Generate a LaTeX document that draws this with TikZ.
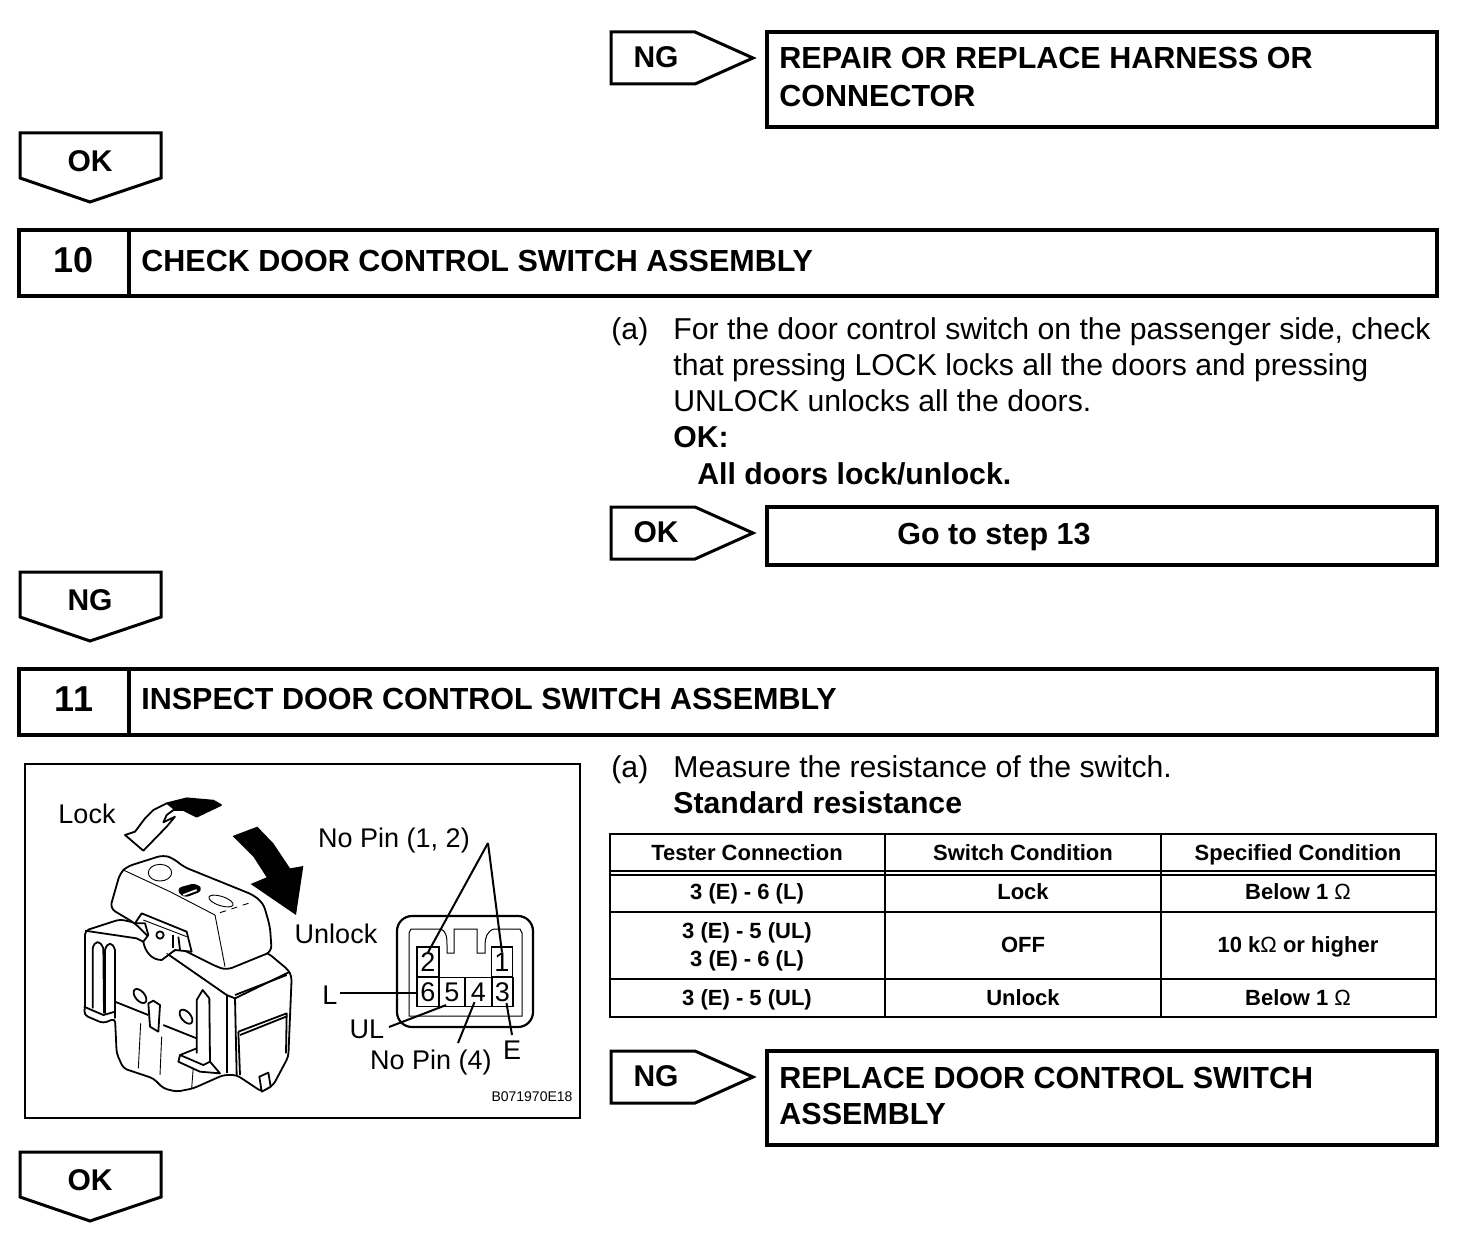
\documentclass[tikz,border=0pt]{standalone}
\usepackage{fontspec}
\setmainfont{Liberation Sans}
\usetikzlibrary{positioning}
\tikzset{
  boxline/.style={line width=1.7pt,line join=miter},
  tagline/.style={line width=1.5pt,line join=miter,fill=white},
  tagtext/.style={font=\fontsize{15}{18}\selectfont\bfseries,inner sep=0pt},
  titletext/.style={font=\fontsize{15.25}{18.4}\selectfont\bfseries,inner sep=0pt,anchor=base west,align=left},
  bodytext/.style={font=\fontsize{15.1}{18.1}\selectfont,inner sep=0pt,anchor=north west,align=left},
  steptext/.style={font=\fontsize{18}{20}\selectfont\bfseries,inner sep=0pt,anchor=base},
  celltext/.style={font=\fontsize{11}{14}\selectfont\bfseries,inner sep=0pt,anchor=base},
  figtext/.style={font=\fontsize{13.5}{16}\selectfont,inner sep=0pt,anchor=base},
  pincell/.style={draw,line width=0.6pt,font=\fontsize{13.5}{16}\selectfont,inner sep=0pt},
  leader/.style={line width=1pt},
  switchline/.style={line width=0.9pt,line join=round},
  switchthin/.style={line width=0.45pt,line join=round}
}
\begin{document}
\begin{tikzpicture}[x=0.5pt,y=-0.5pt]
\useasboundingbox (0,0) rectangle (1472,1252);
% tags pointing right
\foreach \y/\t/\n in {32/NG/tagrepair,507/OK/taggo,1051/NG/tagreplace} {
  \draw[tagline] (611,\y) -- ++(84,0) -- ++(58,26) -- ++(-58,26) -- ++(-84,0) -- cycle;
  \path (656,\y) ++(0,25) node[tagtext] (\n) {\t};
}
% tags pointing down
\foreach \y/\t/\n in {133/OK/tagok,572/NG/tagng,1152/OK/tagend} {
  \draw[tagline] (20,\y) -- ++(141,0) -- ++(0,45) -- ++(-71,24) -- ++(-70,-24) -- cycle;
  \path (90,\y) ++(0,28) node[tagtext] (\n) {\t};
}
% result boxes
\draw[boxline] (767,32) rectangle (1437,127);
\node[titletext] (repair) at (779,69) {REPAIR OR REPLACE HARNESS OR};
\node[titletext] (connector) at (779,106) {CONNECTOR};
\draw[boxline] (767,507) rectangle (1437,565);
\node[titletext] (gostep) at (897,544) {Go to step 13};
\draw[boxline] (767,1051) rectangle (1437,1145);
\node[titletext] (replace) at (779,1088) {REPLACE DOOR CONTROL SWITCH};
\node[titletext] (assembly) at (779,1124) {ASSEMBLY};
% step headers
\draw[boxline] (19,230) rectangle (1437,296);
\draw[boxline] (129,230) -- (129,296);
\node[steptext] (stepten) at (74,272) {10};
\node[titletext] (checktitle) at (141,271) {CHECK DOOR CONTROL SWITCH ASSEMBLY};
\draw[boxline] (19,669) rectangle (1437,735);
\draw[boxline] (129,669) -- (129,735);
\node[steptext] (stepeleven) at (74,711) {11};
\node[titletext] (inspecttitle) at (141,709) {INSPECT DOOR CONTROL SWITCH ASSEMBLY};
% step text
\node[bodytext] (parta) at (611,317) {(a)};
\node[bodytext] (checktext) at (673,317) {For the door control switch on the passenger side, check\\
that pressing LOCK locks all the doors and pressing\\
UNLOCK unlocks all the doors.\\
\textbf{OK:}\\
\hspace*{12pt}\textbf{All doors lock/unlock.}};
\node[bodytext] (partb) at (611,755) {(a)};
\node[bodytext] (measuretext) at (673,755) {Measure the resistance of the switch.\\
\textbf{Standard resistance}};
% table
\draw[line width=1.2pt] (610,834) rectangle (1436,1017);
\foreach \x in {885,1161} {
  \draw[line width=1pt] (\x,834) -- (\x,1017);
}
\foreach \y in {871,875,912,979} {
  \draw[line width=1pt] (610,\y) -- (1436,\y);
}
\foreach \x/\y/\t/\n in {747/860/Tester Connection/head1,1023/860/Switch Condition/head2,1298/860/Specified Condition/head3,
  747/899/3 (E) - 6 (L)/cella,1023/899/Lock/cellb,1298/899/Below 1 {\normalfont Ω}/cellc,
  747/938/3 (E) - 5 (UL)/celld,747/966/3 (E) - 6 (L)/celle,1023/952/OFF/cellf,1298/952/10 k{\normalfont Ω} or higher/cellg,
  747/1005/3 (E) - 5 (UL)/cellh,1023/1005/Unlock/celli,1298/1005/Below 1 {\normalfont Ω}/cellj} {
  \node[celltext] (\n) at (\x,\y) {\t};
}
% figure
\draw[line width=1pt] (25,764) rectangle (580,1118);
\node[figtext] (lock) at (87,823) {Lock};
\node[figtext] (unlock) at (336,943) {Unlock};
\node[figtext] (nopintop) at (394,847) {No Pin (1, 2)};
\node[figtext] (sideL) at (330,1004) {L};
\node[figtext] (sideUL) at (367,1038) {UL};
\node[figtext] (nopinlow) at (431,1069) {No Pin (4)};
\node[figtext] (sideE) at (512,1059) {E};
\node[font=\fontsize{7}{8}\selectfont,inner sep=0pt] (figcode) at (532,1097) {B071970E18};
% switch, in the coordinates of a crop at (20,760) scaled three times
\begin{scope}[shift={(10pt,-380pt)},x=0.16667pt,y=-0.16667pt]
\draw[switchline,fill=white] (315,225) -- (345,215) -- (375,175) -- (400,150) -- (440,130) -- (500,115) -- (580,122) -- (603,135) -- (530,170) -- (490,150) -- (460,150) -- (440,165) -- (430,187) -- (465,170) -- (440,200) -- (370,272) -- cycle;
\fill (440,132) -- (500,115) -- (580,122) -- (603,135) -- (530,170) -- (490,150) -- (460,148) -- cycle;
\fill (638,228) -- (712,200) -- (760,250) -- (810,325) -- (850,318) -- (828,465) -- (692,372) -- (740,352) -- (700,290) -- cycle;
% body
\draw[switchline,fill=white,rounded corners=2pt] (195,512) -- (300,478) -- (745,580) -- (805,630) -- (815,650) -- (805,890) -- (760,975) -- (725,995) -- (650,945) -- (610,945) -- (520,985) -- (470,995) -- (430,985) -- (400,955) -- (310,925) -- (290,880) -- (285,775) -- (250,790) -- (192,765) -- (195,740) -- cycle;
\draw[switchline] (195,512) -- (350,535) -- (375,548);
\draw[switchline] (285,775) -- (285,725) -- (385,765);
\draw[switchline] (430,795) -- (530,835);
\draw[switchline] (385,730) -- (390,800) -- (415,815) -- (420,735) -- (400,722) -- cycle;
\draw[switchline] (218,745) -- (218,565) .. controls (225,540) and (240,540) .. (250,565) -- (252,760);
\draw[switchline] (255,760) -- (255,570) .. controls (262,545) and (278,545) .. (285,570) -- (285,725);
\draw[switchline] (192,740) -- (250,765) -- (285,755);
\draw[switchline,rotate around={-50:(360,708)}] (360,708) ellipse (25 and 14);
\draw[switchline,rotate around={-50:(498,770)}] (498,770) ellipse (25 and 14);
\draw[switchthin] (362,790) -- (355,925);
\draw[switchthin] (425,830) -- (420,945);
\draw[switchthin] (520,920) -- (515,985);
\draw[switchline] (440,580) -- (620,705) -- (645,715) -- (810,635);
\draw[switchline] (620,705) -- (620,940);
\draw[switchline] (645,705) -- (800,645);
\draw[switchline] (645,715) -- (650,945);
\draw[switchline] (655,815) -- (800,760) -- (798,880);
\draw[switchline] (655,815) -- (660,945);
\draw[switchline] (660,825) -- (798,770);
\draw[switchline,fill=white] (530,880) -- (530,720) -- (548,690) -- (568,715) -- (570,905);
\draw[switchline,fill=white] (530,865) -- (480,885) -- (475,905) -- (540,935) -- (600,940) -- (570,905) -- (550,915) -- (480,885);
\draw[switchline,fill=white] (718,950) -- (745,938) -- (752,980) -- (725,995) -- cycle;
% rocker button
\draw[switchline,fill=white,rounded corners=3pt] (270,445) -- (300,340) -- (320,320) -- (430,285) -- (460,295) -- (490,320) -- (700,405) -- (730,430) -- (750,500) -- (755,575) -- (620,630) -- (590,620) -- (480,565) -- (440,580) -- (385,530) -- (345,490) -- cycle;
\draw[switchthin] (310,330) -- (450,395) -- (585,465) -- (615,620);
\draw[switchthin,dashed] (600,458) -- (700,425);
\draw[switchthin] (420,338) ellipse (35 and 25);
\draw[switchthin,rotate around={-18:(603,423)}] (603,423) ellipse (38 and 14);
\fill[rounded corners=3pt] (468,385) -- (530,368) -- (550,392) -- (490,415) -- cycle;
\draw[white,line width=0.9pt] (490,405) -- (530,390);
% pivot
\draw[switchline,fill=white] (345,490) -- (365,460) -- (500,515) -- (515,575) -- (465,570) -- (425,600) .. controls (395,600) and (375,575) .. (370,545) -- (385,525) -- (375,490) -- cycle;
\draw[switchline] (420,525) circle (11);
\draw[switchline] (460,525) -- (460,565);
\draw[switchline] (475,530) -- (480,570);
\draw[switchthin] (370,480) -- (500,530);
\draw[switchthin] (440,580) -- (620,705);
\end{scope}
% connector
\draw[line width=1.1pt,rounded corners=7.5pt] (397,916) rectangle (533,1027);
\draw[line width=0.5pt] (409,1016) -- (409,933) -- ++(2,-4) -- (440,929) .. controls (447,931) and (447,938) .. (447,945) -- (447,953) -- ++(7,0) -- (454,929) -- (477,929) -- (477,953) -- ++(8,0) -- (485,945) .. controls (485,938) and (487,931) .. (494,929) -- (520,929) -- (522,933) -- (522,1016) -- cycle;
\node[pincell,minimum width=11pt,minimum height=15pt] (pintwo) at (428,962) {2};
\node[pincell,minimum width=10.5pt,minimum height=15pt] (pinone) at (502,962) {1};
\node[pincell,minimum width=11pt,minimum height=14.5pt] (pinsix) at (428,992) {6};
\node[pincell,minimum width=13pt,minimum height=14.5pt] (pinfive) at (452,992) {5};
\node[pincell,minimum width=13.3pt,minimum height=14.5pt] (pinfour) at (478.5,992) {4};
\node[pincell,minimum width=10.5pt,minimum height=14.5pt] (pinthree) at (502.5,992) {3};
% leaders
\coordinate (apex) at (488,843);
\coordinate (lstart) at (340,993);
\coordinate (ulend) at (389,1027);
\coordinate (lowend) at (458,1043);
\coordinate (eend) at (512,1035);
\draw[leader] (apex) -- ([yshift=-3pt]pintwo.north);
\draw[leader] (apex) -- ([yshift=-3pt]pinone.north);
\draw[leader] (lstart) -- (lstart -| pinsix.west);
\draw[leader] (ulend) -- ([xshift=-3pt,yshift=1pt]pinfive.south);
\draw[leader] (lowend) -- ([xshift=-2pt,yshift=2.5pt]pinfour.south);
\draw[leader] (eend) -- ([xshift=2pt,yshift=2pt]pinthree.south);
\end{tikzpicture}
\end{document}
